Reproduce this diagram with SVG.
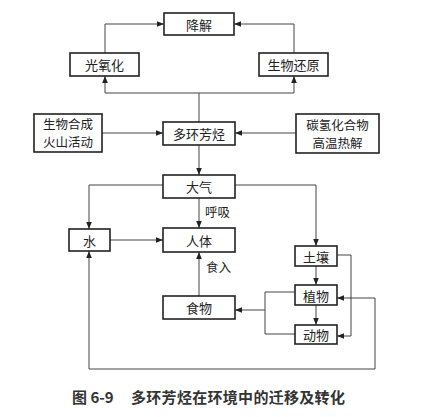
<svg xmlns="http://www.w3.org/2000/svg" width="440" height="417" viewBox="0 0 440 417">
<defs>
<marker id="ah" viewBox="0 0 10 10" refX="10" refY="5" markerWidth="7" markerHeight="7" markerUnits="userSpaceOnUse" orient="auto">
<path d="M0,1 L10,5 L0,9 Z" fill="#222"/>
</marker>
<style>
.box{fill:#fff;stroke:#222;stroke-width:1.6}
.t{font-family:"Noto Sans CJK SC","Liberation Serif",serif;font-size:13px;fill:#222;text-anchor:middle;dominant-baseline:central}
.t2{font-family:"Noto Sans CJK SC","Liberation Serif",serif;font-size:12.5px;fill:#222;text-anchor:middle}
.lbl{font-family:"Noto Sans CJK SC",sans-serif;font-size:12.5px;fill:#222}
.c{fill:none;stroke:#444;stroke-width:1}
.ca{fill:none;stroke:#444;stroke-width:1;marker-end:url(#ah)}
.cap{font-family:"Noto Sans CJK SC",sans-serif;font-size:15px;font-weight:bold;fill:#333}
</style>
</defs>
<rect width="440" height="417" fill="#fff"/>
<g id="connectors">
<path class="ca" d="M105,53 V24 H164"/>
<path class="ca" d="M294,53 V24 H234"/>
<path class="c" d="M199,122 V93"/>
<path class="ca" d="M199,93 H105 V76"/>
<path class="ca" d="M199,93 H294 V76"/>
<path class="ca" d="M102,133 H163"/>
<path class="ca" d="M296,133 H235"/>
<path class="ca" d="M199,145 V175"/>
<path class="ca" d="M163,185 H89 V229"/>
<path class="ca" d="M235,185 H316 V246"/>
<path class="ca" d="M199,198 V228"/>
<path class="ca" d="M110,240 H163"/>
<path class="ca" d="M199,296 V252"/>
<path class="ca" d="M316,266 V285"/>
<path class="ca" d="M316,305 V325"/>
<path class="ca" d="M337,255 H351 V336 H337"/>
<path class="c" d="M295,292 H265 V334 H295"/>
<path class="ca" d="M265,310 H235"/>
<path class="ca" d="M375,298 V369 H89 V251"/>
<path class="ca" d="M375,298 H337"/>
</g>
<g id="n-jiangjie"><rect class="box" x="164" y="13" width="70" height="22"/><text class="t" x="199" y="24">降解</text></g>
<g id="n-guangyanghua"><rect class="box" x="70" y="53" width="69" height="23"/><text class="t" x="104.5" y="64.5">光氧化</text></g>
<g id="n-shengwuhuanyuan"><rect class="box" x="259" y="53" width="69" height="23"/><text class="t" x="293.5" y="64.5">生物还原</text></g>
<g id="n-shengwuhecheng"><rect class="box" x="34" y="114" width="68" height="38"/><text class="t2" x="68" y="129">生物合成</text><text class="t2" x="68" y="147">火山活动</text></g>
<g id="n-pah"><rect class="box" x="163" y="122" width="72" height="23"/><text class="t" x="199" y="133.5">多环芳烃</text></g>
<g id="n-tanqing"><rect class="box" x="296" y="114" width="83" height="39"/><text class="t2" x="337.5" y="129.5">碳氢化合物</text><text class="t2" x="337.5" y="147.5">高温热解</text></g>
<g id="n-daqi"><rect class="box" x="163" y="175" width="72" height="23"/><text class="t" x="199" y="186.5">大气</text></g>
<g id="n-shui"><rect class="box" x="69" y="229" width="41" height="22"/><text class="t" x="89.5" y="240">水</text></g>
<g id="n-renti"><rect class="box" x="163" y="228" width="72" height="24"/><text class="t" x="199" y="240">人体</text></g>
<g id="n-turang"><rect class="box" x="295" y="246" width="42" height="20"/><text class="t" x="316" y="256">土壤</text></g>
<g id="n-zhiwu"><rect class="box" x="295" y="285" width="42" height="20"/><text class="t" x="316" y="295">植物</text></g>
<g id="n-dongwu"><rect class="box" x="295" y="325" width="42" height="19"/><text class="t" x="316" y="334.5">动物</text></g>
<g id="n-shiwu"><rect class="box" x="163" y="296" width="72" height="23"/><text class="t" x="199" y="307.5">食物</text></g>
<text class="lbl" x="205" y="217">呼吸</text>
<text class="lbl" x="206" y="272">食入</text>
<text class="cap" x="72" y="403">图 6-9</text>
<text class="cap" x="131" y="403" letter-spacing="0.3">多环芳烃在环境中的迁移及转化</text>
</svg>
